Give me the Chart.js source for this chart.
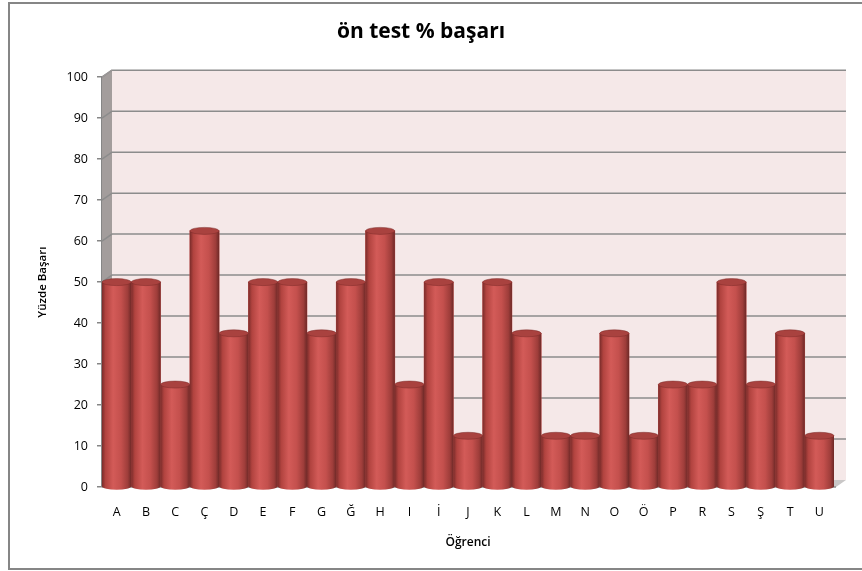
<!DOCTYPE html>
<html>
<head>
<meta charset="utf-8">
<script src="https://cdn.jsdelivr.net/npm/chart.js@4/dist/chart.umd.min.js"></script>
<style>
  html, body { margin: 0; padding: 0; background: #fff; }
  #wrap { width: 862px; height: 571px; position: relative; }
</style>
</head>
<body>
<div id="wrap"><canvas id="basariChart" width="862" height="571"></canvas></div>
<script>
// students and their pre-test success (%)
var ogrenciler = ['A', 'B', 'C', 'Ç', 'D', 'E', 'F', 'G', 'Ğ', 'H', 'I', 'İ', 'J',
                  'K', 'L', 'M', 'N', 'O', 'Ö', 'P', 'R', 'S', 'Ş', 'T', 'U'];
var basari = [50, 50, 25, 62.5, 37.5, 50, 50, 37.5, 50, 62.5, 25, 50, 12.5,
              50, 37.5, 12.5, 12.5, 37.5, 12.5, 25, 25, 50, 25, 37.5, 12.5];
var yTicks = [0, 10, 20, 30, 40, 50, 60, 70, 80, 90, 100];

var DX = 10, DY = -7; // depth of the fake 3d walls

// outer frame of the chart object
var framePlugin = {
    id: 'frame',
    beforeDraw: function (chart) {
        var c = chart.ctx;
        c.save();
        c.strokeStyle = '#868686';
        c.lineWidth = 2;
        c.strokeRect(9, 3, 900, 566);
        c.restore();
    }
};

// back wall, side wall, floor and gridlines
var wallPlugin = {
    id: 'walls',
    beforeDatasetsDraw: function (chart) {
        var c = chart.ctx, a = chart.chartArea, y = chart.scales.y;
        var l = a.left, r = a.right + 2, t = y.getPixelForValue(100), b = y.getPixelForValue(0);
        c.save();
        // back wall
        c.fillStyle = '#f5e8e8';
        c.fillRect(l + DX, t + DY, r - l, b - t);
        // side wall
        c.fillStyle = '#a39d9c';
        c.beginPath();
        c.moveTo(l, t); c.lineTo(l + DX, t + DY); c.lineTo(l + DX, b + DY); c.lineTo(l, b);
        c.closePath(); c.fill();
        // floor
        c.fillStyle = '#c9c7c7';
        c.beginPath();
        c.moveTo(l, b); c.lineTo(l + DX, b + DY); c.lineTo(r + DX, b + DY); c.lineTo(r, b);
        c.closePath(); c.fill();
        // gridlines
        c.strokeStyle = '#8c8c8c';
        c.lineWidth = 1.5;
        yTicks.forEach(function (v) {
            if (v === 0) return;
            var py = y.getPixelForValue(v);
            c.beginPath();
            c.moveTo(l, py);
            c.lineTo(l + DX, py + DY);
            c.lineTo(r + DX, py + DY);
            c.stroke();
        });
        // top edge of the side wall
        c.strokeStyle = '#9a9696';
        c.beginPath(); c.moveTo(l, t); c.lineTo(l + DX, t + DY); c.stroke();
        // front floor edge
        c.strokeStyle = '#8c8c8c';
        c.beginPath(); c.moveTo(l, b); c.lineTo(r, b); c.stroke();
        c.restore();
    }
};

// paint each bar as a shaded cylinder
var cylinderPlugin = {
    id: 'cylinder',
    afterDatasetsDraw: function (chart) {
        var c = chart.ctx;
        var meta = chart.getDatasetMeta(0);
        c.save();
        meta.data.forEach(function (bar) {
            var w = bar.width, x0 = bar.x - w / 2, x1 = bar.x + w / 2;
            var top = bar.y, base = bar.base, ry = 3.5;
            var g = c.createLinearGradient(x0, 0, x1, 0);
            g.addColorStop(0, '#7a2c2a');
            g.addColorStop(0.12, '#b1433f');
            g.addColorStop(0.38, '#d35b58');
            g.addColorStop(0.65, '#c4504d');
            g.addColorStop(0.88, '#9e3d3a');
            g.addColorStop(1, '#6e2927');
            c.fillStyle = g;
            c.beginPath();
            c.moveTo(x0, top);
            c.lineTo(x0, base);
            c.ellipse(bar.x, base, w / 2, ry, 0, Math.PI, 0, true);
            c.lineTo(x1, top);
            c.closePath();
            c.fill();
            // top cap
            c.fillStyle = '#a9423f';
            c.beginPath();
            c.ellipse(bar.x, top, w / 2, ry, 0, 0, Math.PI * 2);
            c.fill();
            c.strokeStyle = 'rgba(120,40,38,0.6)';
            c.lineWidth = 0.8;
            c.stroke();
        });
        c.restore();
    }
};

new Chart(document.getElementById('basariChart'), {
    type: 'bar',
    data: {
        labels: ogrenciler,
        datasets: [{
            data: basari,
            backgroundColor: '#c0504d',
            borderWidth: 0,
            barPercentage: 1.0,
            categoryPercentage: 1.0
        }]
    },
    options: {
        responsive: false,
        animation: false,
        devicePixelRatio: 1,
        layout: { padding: { left: 8, right: 28, top: 0, bottom: 4 } },
        plugins: {
            legend: { display: false },
            tooltip: { enabled: false },
            title: {
                display: true,
                text: 'ön test % başarı',
                color: '#000',
                font: { family: 'Open Sans', size: 21, weight: 'bold' },
                padding: { top: 19, bottom: 33 }
            }
        },
        scales: {
            x: {
                grid: { display: false, drawTicks: false },
                border: { display: false },
                ticks: {
                    color: '#000',
                    padding: 18,
                    maxRotation: 0,
                    font: { family: 'Open Sans', size: 12.5 }
                },
                title: {
                    display: true,
                    text: 'Öğrenci',
                    color: '#000',
                    font: { family: 'Open Sans', size: 12, weight: '600' },
                    padding: { top: 0, bottom: 17 }
                },
                afterFit: function (scale) { scale.height = 80; }
            },
            y: {
                min: 0,
                max: 100,
                afterBuildTicks: function (scale) {
                    scale.ticks = yTicks.map(function (v) { return { value: v }; });
                },
                grid: { drawOnChartArea: false, tickLength: 5, color: '#868686', lineWidth: 1.5 },
                border: { display: true, color: '#868686', width: 1.5 },
                ticks: {
                    color: '#000',
                    padding: 9,
                    font: { family: 'Open Sans', size: 12.5 }
                },
                title: {
                    display: true,
                    text: 'Yüzde Başarı',
                    color: '#000',
                    font: { family: 'Open Sans', size: 11.5, weight: '600' },
                    padding: { top: 28, bottom: 0 }
                },
                afterFit: function (scale) { scale.width = 94; }
            }
        }
    },
    plugins: [framePlugin, wallPlugin, cylinderPlugin]
});
</script>
</body>
</html>
